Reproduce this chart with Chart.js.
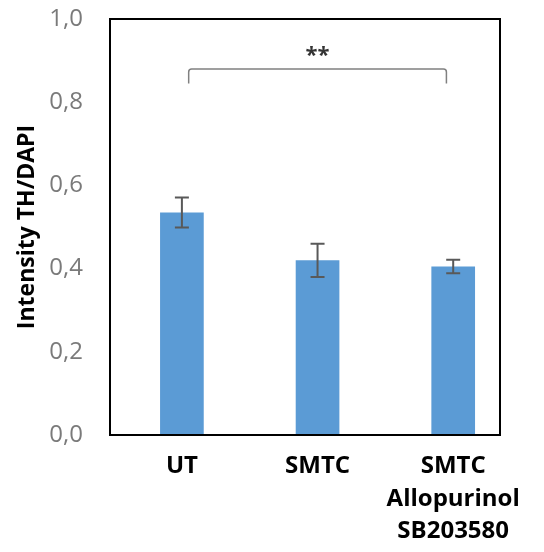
<!DOCTYPE html>
<html>
<head>
<meta charset="utf-8">
<script src="https://cdn.jsdelivr.net/npm/chart.js@4/dist/chart.umd.min.js"></script>
<style>
  html, body { margin: 0; padding: 0; background: #fff; }
  #wrap { width: 544px; height: 552px; }
</style>
</head>
<body>
<div id="wrap"><canvas id="thChart" width="544" height="552"></canvas></div>
<script>
// groups and values
const categories = ['UT', 'SMTC', ['SMTC', 'Allopurinol', 'SB203580']];
const intensity = [0.535, 0.42, 0.405];
const errors = [0.036, 0.04, 0.016];
const yTicks = [0, 0.2, 0.4, 0.6, 0.8, 1.0];
// significance bracket: from group 0 to group 2 at height 0.88
const sigPair = [0, 2];
const sigLevel = 0.88;
const sigText = '**';

const FONT = "'Open Sans', 'DejaVu Sans', sans-serif";

// error bars, frame and bracket
const extras = {
    id: 'extras',
    afterDatasetsDraw(chart) {
        const ctx = chart.ctx;
        const x = chart.scales.x, y = chart.scales.y;
        ctx.save();
        // error bars
        ctx.strokeStyle = '#595959';
        ctx.lineWidth = 2;
        intensity.forEach((v, i) => {
            const px = x.getPixelForValue(i);
            const top = y.getPixelForValue(v + errors[i]);
            const bot = y.getPixelForValue(v - errors[i]);
            ctx.beginPath();
            ctx.moveTo(px, top); ctx.lineTo(px, bot);
            ctx.moveTo(px - 7, top); ctx.lineTo(px + 7, top);
            ctx.moveTo(px - 7, bot); ctx.lineTo(px + 7, bot);
            ctx.stroke();
        });
        // significance bracket
        const x1 = x.getPixelForValue(sigPair[0] + 0.05);
        const x2 = x.getPixelForValue(sigPair[1] - 0.05);
        const by = y.getPixelForValue(sigLevel);
        const drop = y.getPixelForValue(sigLevel - 0.035);
        ctx.strokeStyle = '#808080';
        ctx.lineWidth = 1.5;
        ctx.beginPath();
        ctx.moveTo(x1, drop);
        ctx.lineTo(x1, by + 3);
        ctx.quadraticCurveTo(x1, by, x1 + 3, by);
        ctx.lineTo(x2 - 3, by);
        ctx.quadraticCurveTo(x2, by, x2, by + 3);
        ctx.lineTo(x2, drop);
        ctx.stroke();
        ctx.fillStyle = '#333';
        ctx.font = 'bold 22px ' + FONT;
        ctx.textAlign = 'center';
        ctx.textBaseline = 'middle';
        ctx.fillText(sigText, (x1 + x2) / 2, by - 13);
        // plot frame
        const a = chart.chartArea;
        ctx.strokeStyle = '#000';
        ctx.lineWidth = 2;
        ctx.strokeRect(a.left, a.top, a.right - a.left, a.bottom - a.top);
        ctx.restore();
    }
};

new Chart(document.getElementById('thChart'), {
    type: 'bar',
    data: {
        datasets: [{
            data: intensity.map((v, i) => ({ x: i, y: v })),
            backgroundColor: '#5b9bd5',
            borderWidth: 0,
            barPercentage: 0.322,
            categoryPercentage: 1.0
        }]
    },
    options: {
        responsive: false,
        animation: false,
        layout: { padding: { left: 0, top: 19, right: 44, bottom: 0 } },
        plugins: {
            legend: { display: false },
            tooltip: { enabled: false }
        },
        scales: {
            x: {
                type: 'linear',
                offset: false,
                min: -0.53,
                max: 2.345,
                grid: { display: false, drawTicks: true, tickLength: 15 },
                border: { display: false },
                afterBuildTicks: (s) => { s.ticks = categories.map((c, i) => ({ value: i })); },
                afterFit: (s) => { s.height = 117; },
                ticks: {
                    padding: 0,
                    color: '#000',
                    font: { family: FONT, size: 24, weight: 'bold', lineHeight: 1.36 },
                    callback: (v) => categories[v]
                }
            },
            y: {
                min: 0,
                max: 1,
                grid: { display: false, drawTicks: true, tickLength: 27 },
                border: { display: false },
                afterBuildTicks: (s) => { s.ticks = yTicks.map(v => ({ value: v })); },
                afterFit: (s) => { s.width = 110; },
                ticks: {
                    padding: 0,
                    color: '#7a7a7a',
                    font: { family: FONT, size: 24 },
                    callback: (v) => v.toFixed(1).replace('.', ',')
                },
                title: {
                    display: true,
                    text: 'Intensity TH/DAPI',
                    color: '#000',
                    padding: { top: 14, bottom: 0 },
                    font: { family: FONT, size: 23, weight: 'bold' }
                }
            }
        }
    },
    plugins: [extras]
});
</script>
</body>
</html>
